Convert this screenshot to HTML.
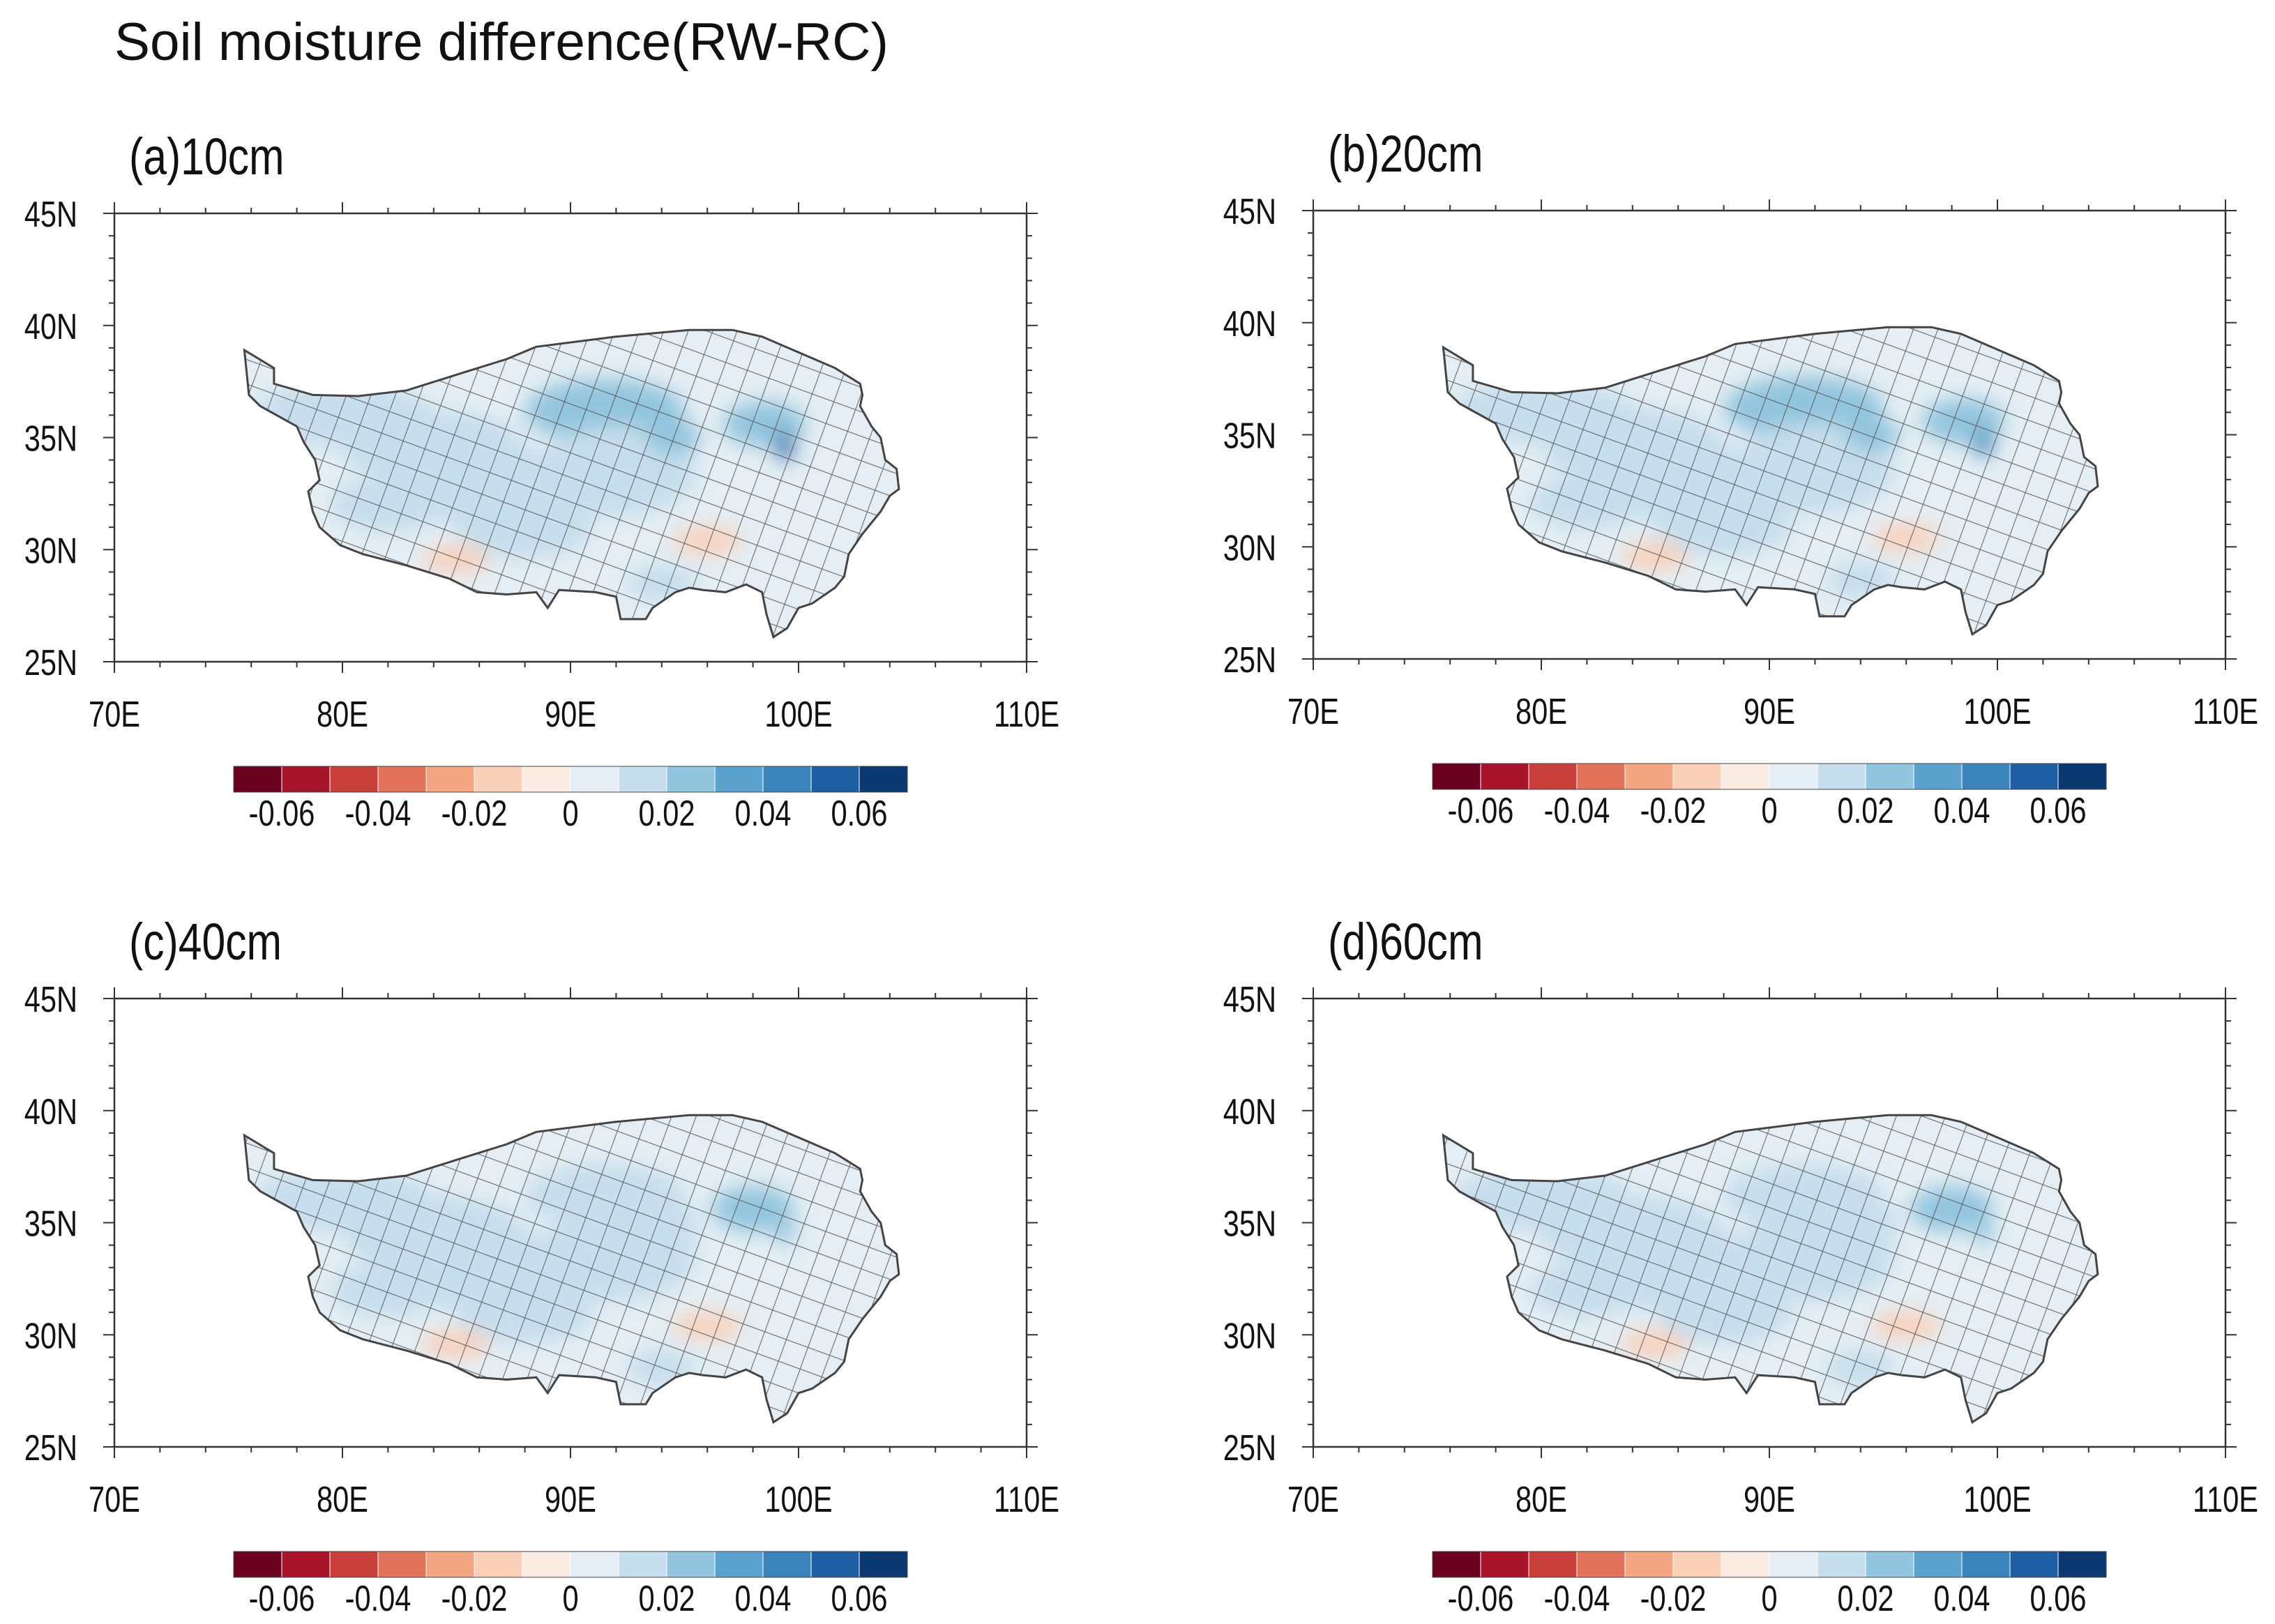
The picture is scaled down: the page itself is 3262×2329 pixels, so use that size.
<!DOCTYPE html>
<html><head><meta charset="utf-8">
<style>
html,body{margin:0;padding:0;background:#fff;}
body{width:3262px;height:2324px;overflow:hidden;}
svg text{font-family:"Liberation Sans Narrow","Liberation Sans",sans-serif;fill:#111;}
</style></head>
<body>
<svg id="fig" width="3262" height="2324" viewBox="0 0 3262 2324" xmlns="http://www.w3.org/2000/svg">
<text x="164" y="86" font-size="76" textLength="1110" lengthAdjust="spacingAndGlyphs">Soil moisture difference(RW-RC)</text>
</svg>
<script>
const panelLabels = ["(a)10cm","(b)20cm","(c)40cm","(d)60cm"];
const lonTicks = [70,80,90,100,110];
const lonTickLabels = ["70E","80E","90E","100E","110E"];
const latTicks = [25,30,35,40,45];
const latTickLabels = ["25N","30N","35N","40N","45N"];
const cbLevels = [-0.06,-0.05,-0.04,-0.03,-0.02,-0.01,0,0.01,0.02,0.03,0.04,0.05,0.06];
const cbLabels = ["-0.06","-0.04","-0.02","0","0.02","0.04","0.06"];
const cbColors = ["#6a0220","#a8142b","#c9403b","#e2735a","#f4a683","#fad0b9","#fbece3","#e4eef4","#c6deed","#92c5de","#5aa2cd","#3a84bb","#1e5fa3","#0b3a73"];
const outlineLon = [75.7,77.0,77.0,78.7,80.7,82.8,85.3,87.2,88.5,92.0,95.2,97.1,98.4,100.0,101.6,102.7,102.8,102.7,103.2,103.6,103.8,104.3,104.4,104.0,103.6,102.8,102.2,102.0,101.6,100.6,100.0,99.5,98.9,98.6,98.4,97.7,96.8,95.8,95.2,94.6,93.6,93.3,92.2,92.0,91.1,89.5,89.0,88.5,87.2,85.9,84.7,82.8,80.9,79.9,79.0,78.7,78.5,79.0,78.8,78.3,78.0,76.4,75.9];
const outlineLat = [38.9,38.1,37.4,36.9,36.85,37.1,37.9,38.5,39.05,39.5,39.8,39.8,39.5,38.8,38.1,37.4,36.9,36.4,35.5,35.0,34.0,33.6,32.7,32.4,31.7,30.7,29.8,28.8,28.3,27.6,27.4,26.5,26.1,27.1,28.1,28.45,28.1,28.2,28.3,28.1,27.4,26.9,26.9,27.9,28.1,28.2,27.4,28.1,28.0,28.1,28.7,29.3,29.8,30.2,31.0,31.7,32.6,33.1,34.0,34.8,35.5,36.4,36.9];
// anomaly patches per panel: lon, lat, half-width (deg), half-height (deg), value
const patchLon = [
 [80,84,86,91.5,92,94.5,98.5,99.4,96,85,94,88,82],
 [80,84,86,91.5,92,94.5,98.5,99.4,96,85,94,88,82],
 [80,84,86,91.5,92,94.5,98,99.4,96,85,94,88,82],
 [80,84,86,91.5,92,94.5,98,99.4,96,85,94,88,82]];
const patchLat = [
 [36,34.5,33,36.2,33.5,35,35.6,34.6,30.4,29.6,28.5,31,32],
 [36,34.5,33,36.2,33.5,35,35.6,34.6,30.4,29.6,28.5,31,32],
 [36,34.5,33,36.2,33.5,35,35.6,34.6,30.4,29.6,28.5,31,32],
 [36,34.5,33,36.2,33.5,35,35.6,34.6,30.4,29.6,28.5,31,32]];
const patchRx = [4,4,3.5,3.5,3.5,1.2,1.8,0.4,1.5,1.5,1.5,3,2.5];
const patchRy = [1.4,1.7,2,1.4,2,0.8,1,0.6,0.6,0.6,0.8,1.4,1.2];
const patchVal = [
 [0.015,0.015,0.015,0.02,0.015,0.02,0.02,0.05,-0.015,-0.012,0.015,0.012,0.012],
 [0.015,0.015,0.015,0.02,0.015,0.02,0.02,0.04,-0.015,-0.012,0.015,0.012,0.012],
 [0.012,0.012,0.015,0.015,0.015,0.015,0.02,0.02,-0.015,-0.012,0.015,0.012,0.012],
 [0.012,0.012,0.015,0.015,0.015,0.015,0.02,0.02,-0.02,-0.012,0.015,0.012,0.012]];

const NS="http://www.w3.org/2000/svg";
const svg=document.getElementById('fig');
function mk(tag,attrs,parent){const e=document.createElementNS(NS,tag);for(const k in attrs)e.setAttribute(k,attrs[k]);(parent||svg).appendChild(e);return e;}
function colorFor(v){let i=0;while(i<cbLevels.length && v>=cbLevels[i])i++;return cbColors[i];}
function narrow(t,f){const l=t.getComputedTextLength();if(l>0){t.setAttribute('textLength',(l*f).toFixed(1));t.setAttribute('lengthAdjust','spacingAndGlyphs');}}

const defs=mk('defs',{});
const hp=mk('pattern',{id:'hatch',patternUnits:'userSpaceOnUse',width:33,height:33,patternTransform:'rotate(20)'},defs);
mk('line',{x1:0,y1:0,x2:0,y2:33,stroke:'#555',"stroke-width":2.2},hp);
mk('line',{x1:0,y1:0,x2:33,y2:0,stroke:'#555',"stroke-width":2.2},hp);
const bf=mk('filter',{id:'blur',x:'-50%',y:'-50%',width:'200%',height:'200%'},defs);
mk('feGaussianBlur',{stdDeviation:14},bf);

const offs=[[0,0],[1719,-4],[0,1126],[1719,1126]];
for(let p=0;p<4;p++){
  const ox=offs[p][0], oy=offs[p][1];
  const L=164+ox, R=1472+ox, T=306+oy, B=949+oy;
  const X=lon=>L+(lon-70)/40*(R-L);
  const Y=lat=>B-(lat-25)/20*(B-T);
  const g=mk('g',{});
  
  
  const t=mk('text',{x:185+ox,y:250+oy,"font-size":74},g);
  t.textContent=panelLabels[p];
  
  
  narrow(t,0.82);
  const pts=outlineLon.map((lo,i)=>X(lo).toFixed(1)+','+Y(outlineLat[i]).toFixed(1)).join(' ');
  const cp=mk('clipPath',{id:'clip'+p},defs);
  mk('polygon',{points:pts},cp);
  const region=mk('polygon',{points:pts,fill:'#e4eef4'},g);
  
  
  const pg=mk('g',{"clip-path":'url(#clip'+p+')'},g);
  const bg=mk('g',{filter:'url(#blur)'},pg);
  for(let i=0;i<patchVal[p].length;i++){
    const e=mk('ellipse',{cx:X(patchLon[p][i]),cy:Y(patchLat[p][i]),rx:patchRx[i]*32.7,ry:patchRy[i]*32.15,fill:colorFor(patchVal[p][i])},bg);
    
    
  }
  const h=mk('rect',{x:L,y:T,width:R-L,height:B-T,fill:'url(#hatch)',opacity:0.85},pg);
  
  
  const ol=mk('polygon',{points:pts,fill:'none',stroke:'#444',"stroke-width":3},g);
  
  
  const fr=mk('rect',{x:L,y:T,width:R-L,height:B-T,fill:'none',stroke:'#333',"stroke-width":2.5},g);
  
  
  for(let lo=70;lo<=110;lo+=2){
    const len=(lo%10===0)?16:8;
    mk('line',{x1:X(lo),y1:T,x2:X(lo),y2:T-len,stroke:'#333',"stroke-width":2},g);
    mk('line',{x1:X(lo),y1:B,x2:X(lo),y2:B+len,stroke:'#333',"stroke-width":2},g);
  }
  for(let la=25;la<=45;la+=1){
    const len=(la%5===0)?16:8;
    mk('line',{x1:L,y1:Y(la),x2:L-len,y2:Y(la),stroke:'#333',"stroke-width":2},g);
    mk('line',{x1:R,y1:Y(la),x2:R+len,y2:Y(la),stroke:'#333',"stroke-width":2},g);
  }
  lonTicks.forEach((lo,i)=>{
    const tx=mk('text',{x:X(lo),y:1042+oy,"font-size":52,"text-anchor":'middle'},g);
    tx.textContent=lonTickLabels[i];
    
    
    narrow(tx,0.8);
  });
  latTicks.forEach((la,i)=>{
    const ty=mk('text',{x:111+ox,y:Y(la)+19,"font-size":52,"text-anchor":'end'},g);
    ty.textContent=latTickLabels[i];
    
    
    narrow(ty,0.8);
  });
  // colorbar
  const cx0=335+ox, cx1=1301+ox, cy0=1099+oy, cy1=1136+oy, bw=(cx1-cx0)/cbColors.length;
  const cb=mk('g',{},g);
  
  
  cbColors.forEach((c,i)=>{
    const r=mk('rect',{x:cx0+i*bw,y:cy0,width:bw,height:cy1-cy0,fill:c,stroke:'#fff',"stroke-width":1},cb);
    
    
  });
  mk('rect',{x:cx0,y:cy0,width:cx1-cx0,height:cy1-cy0,fill:'none',stroke:'#444',"stroke-width":1},cb);
  cbLabels.forEach((s,i)=>{
    const tl=mk('text',{x:cx0+(1+2*i)*bw,y:1184+oy,"font-size":52,"text-anchor":'middle'},cb);
    tl.textContent=s;
    
    
    narrow(tl,0.8);
  });
}
</script>
</body></html>
